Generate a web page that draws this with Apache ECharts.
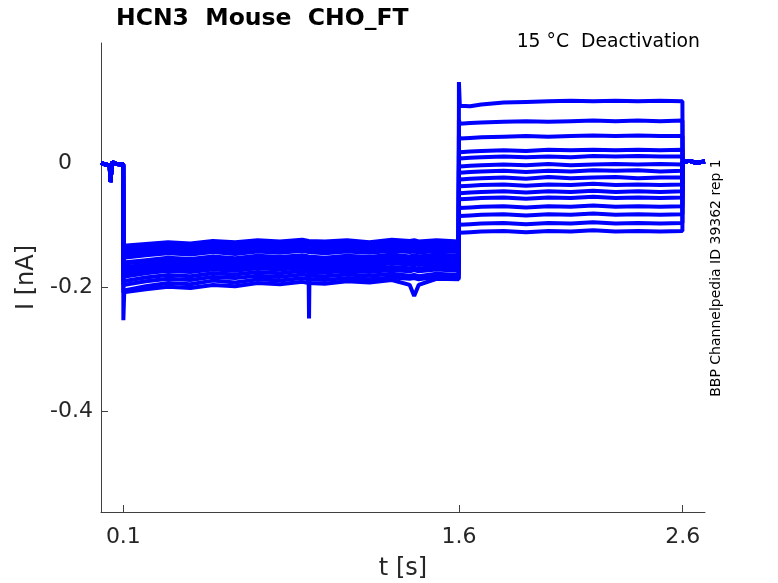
<!DOCTYPE html>
<html>
<head>
<meta charset="utf-8">
<script src="https://cdn.jsdelivr.net/npm/echarts@6/dist/echarts.min.js"></script>
<style>
  html, body { margin: 0; padding: 0; background: #fff; }
  #main { width: 778px; height: 583px; }
</style>
</head>
<body>
<div id="main"></div>
<script>
// holding period before the first step, shared by every sweep
var holdT = [0, 0.02, 0.039, 0.042, 0.046, 0.05, 0.07, 0.099];
var holdI = [0.001, -0.002, -0.003, -0.030, -0.028, 0.002, -0.001, -0.002];

// first step (activation), times in s
var step1T = [0.1, 0.104, 0.2, 0.3, 0.4, 0.5, 0.6, 0.7, 0.8, 0.9, 0.928, 0.93, 0.932,
              1.0, 1.1, 1.2, 1.3, 1.38, 1.4, 1.42, 1.5, 1.599];
// second step (deactivation tails)
var step2T = [1.6, 1.604, 1.65, 1.7, 1.8, 1.9, 2.0, 2.1, 2.2, 2.3, 2.4, 2.5, 2.599];
// back to holding
var endT = [2.6, 2.63, 2.66, 2.7];
var endI = [0.002, 0.004, 0.001, 0.003];

// current in nA for each sweep, first step
var s1_01 = [-0.160, -0.158, -0.156, -0.152, -0.154, -0.150, -0.153, -0.149, -0.151, -0.148, -0.150, -0.150, -0.150, -0.152, -0.149, -0.151, -0.147, -0.150, -0.148, -0.150, -0.147, -0.149];
var s1_02 = [-0.133, -0.132, -0.130, -0.127, -0.129, -0.125, -0.127, -0.124, -0.126, -0.123, -0.125, -0.125, -0.125, -0.126, -0.124, -0.127, -0.123, -0.125, -0.124, -0.126, -0.124, -0.126];
var s1_03 = [-0.178, -0.175, -0.172, -0.168, -0.170, -0.166, -0.168, -0.164, -0.166, -0.163, -0.165, -0.165, -0.165, -0.166, -0.163, -0.165, -0.161, -0.163, -0.162, -0.164, -0.161, -0.163];
var s1_04 = [-0.147, -0.145, -0.143, -0.140, -0.142, -0.138, -0.141, -0.137, -0.139, -0.136, -0.138, -0.138, -0.138, -0.140, -0.137, -0.139, -0.136, -0.138, -0.137, -0.139, -0.136, -0.138];
var s1_05 = [-0.190, -0.187, -0.184, -0.180, -0.182, -0.177, -0.179, -0.175, -0.177, -0.173, -0.175, -0.250, -0.175, -0.176, -0.173, -0.175, -0.172, -0.174, -0.172, -0.174, -0.171, -0.173];
var s1_06 = [-0.138, -0.137, -0.135, -0.131, -0.133, -0.129, -0.132, -0.128, -0.130, -0.127, -0.129, -0.129, -0.129, -0.131, -0.128, -0.130, -0.127, -0.129, -0.128, -0.130, -0.127, -0.129];
var s1_07 = [-0.168, -0.166, -0.163, -0.160, -0.162, -0.158, -0.160, -0.156, -0.158, -0.155, -0.157, -0.157, -0.157, -0.159, -0.156, -0.158, -0.155, -0.157, -0.156, -0.158, -0.155, -0.157];
var s1_08 = [-0.253, -0.205, -0.198, -0.193, -0.195, -0.189, -0.192, -0.187, -0.189, -0.185, -0.187, -0.187, -0.187, -0.188, -0.185, -0.187, -0.184, -0.186, -0.185, -0.187, -0.183, -0.185];
var s1_09 = [-0.152, -0.150, -0.148, -0.145, -0.147, -0.143, -0.146, -0.142, -0.144, -0.141, -0.143, -0.143, -0.143, -0.145, -0.142, -0.144, -0.141, -0.143, -0.142, -0.144, -0.141, -0.143];
var s1_10 = [-0.183, -0.180, -0.177, -0.173, -0.175, -0.171, -0.173, -0.169, -0.171, -0.168, -0.170, -0.170, -0.170, -0.171, -0.168, -0.170, -0.167, -0.169, -0.168, -0.170, -0.166, -0.168];
var s1_11 = [-0.208, -0.206, -0.203, -0.199, -0.201, -0.196, -0.198, -0.193, -0.195, -0.191, -0.193, -0.193, -0.193, -0.194, -0.190, -0.192, -0.188, -0.196, -0.214, -0.196, -0.186, -0.187];
var s1_12 = [-0.142, -0.141, -0.139, -0.135, -0.137, -0.133, -0.136, -0.132, -0.134, -0.131, -0.133, -0.133, -0.133, -0.135, -0.132, -0.134, -0.131, -0.133, -0.132, -0.134, -0.131, -0.133];
var s1_13 = [-0.173, -0.171, -0.168, -0.164, -0.166, -0.162, -0.164, -0.160, -0.162, -0.159, -0.161, -0.161, -0.161, -0.163, -0.160, -0.162, -0.159, -0.161, -0.160, -0.162, -0.159, -0.161];
var s1_14 = [-0.196, -0.193, -0.190, -0.186, -0.188, -0.183, -0.185, -0.181, -0.183, -0.179, -0.181, -0.181, -0.181, -0.182, -0.179, -0.181, -0.178, -0.181, -0.180, -0.182, -0.178, -0.180];
var s1_15 = [-0.162, -0.160, -0.158, -0.155, -0.157, -0.153, -0.155, -0.151, -0.153, -0.150, -0.152, -0.152, -0.152, -0.154, -0.151, -0.153, -0.150, -0.152, -0.151, -0.153, -0.150, -0.152];

// second step
var s2_01 = [0.131, 0.093, 0.092, 0.095, 0.098, 0.099, 0.100, 0.101, 0.100, 0.101, 0.100, 0.101, 0.100];
var s2_02 = [0.070, 0.064, 0.065, 0.066, 0.067, 0.068, 0.067, 0.068, 0.069, 0.068, 0.069, 0.068, 0.069];
var s2_03 = [0.045, 0.040, 0.041, 0.042, 0.043, 0.044, 0.043, 0.044, 0.045, 0.044, 0.045, 0.044, 0.044];
var s2_04 = [0.022, 0.018, 0.019, 0.020, 0.021, 0.020, 0.022, 0.021, 0.022, 0.021, 0.022, 0.021, 0.022];
var s2_05 = [0.012, 0.008, 0.009, 0.010, 0.011, 0.010, 0.011, 0.010, 0.012, 0.011, 0.012, 0.011, 0.011];
var s2_06 = [-0.001, -0.005, -0.004, -0.003, -0.002, -0.003, -0.001, -0.003, -0.002, -0.001, -0.002, -0.001, -0.002];
var s2_07 = [-0.011, -0.015, -0.014, -0.013, -0.012, -0.014, -0.012, -0.013, -0.011, -0.012, -0.011, -0.013, -0.012];
var s2_08 = [-0.022, -0.026, -0.025, -0.024, -0.023, -0.025, -0.022, -0.024, -0.023, -0.022, -0.024, -0.023, -0.023];
var s2_09 = [-0.033, -0.037, -0.036, -0.035, -0.034, -0.036, -0.034, -0.035, -0.033, -0.035, -0.034, -0.035, -0.034];
var s2_10 = [-0.044, -0.048, -0.047, -0.046, -0.045, -0.047, -0.045, -0.046, -0.044, -0.046, -0.045, -0.046, -0.045];
var s2_11 = [-0.054, -0.058, -0.057, -0.056, -0.055, -0.057, -0.055, -0.056, -0.054, -0.056, -0.055, -0.056, -0.055];
var s2_12 = [-0.068, -0.072, -0.071, -0.070, -0.069, -0.071, -0.069, -0.070, -0.068, -0.070, -0.069, -0.070, -0.069];
var s2_13 = [-0.081, -0.085, -0.084, -0.083, -0.082, -0.084, -0.082, -0.083, -0.081, -0.083, -0.082, -0.083, -0.082];
var s2_14 = [-0.095, -0.099, -0.098, -0.097, -0.096, -0.098, -0.096, -0.097, -0.095, -0.097, -0.096, -0.097, -0.096];
var s2_15 = [-0.108, -0.112, -0.111, -0.110, -0.109, -0.111, -0.109, -0.110, -0.108, -0.110, -0.109, -0.110, -0.109];

var step1 = [s1_01, s1_02, s1_03, s1_04, s1_05, s1_06, s1_07, s1_08, s1_09, s1_10, s1_11, s1_12, s1_13, s1_14, s1_15];
var step2 = [s2_01, s2_02, s2_03, s2_04, s2_05, s2_06, s2_07, s2_08, s2_09, s2_10, s2_11, s2_12, s2_13, s2_14, s2_15];

var xTicks = [0.1, 1.6, 2.6];
var yTicks = [-0.4, -0.2, 0];

function pairs(t, v) {
    var out = [];
    for (var i = 0; i < t.length; i++) out.push([t[i], v[i]]);
    return out;
}

var series = [];
for (var k = 0; k < step1.length; k++) {
    var d = pairs(holdT, holdI)
        .concat(pairs(step1T, step1[k]))
        .concat(pairs(step2T, step2[k]))
        .concat(pairs(endT, endI));
    series.push({
        type: 'line',
        data: d,
        symbol: 'none',
        lineStyle: { color: '#0000ff', width: 4 },
        silent: true
    });
}

var myChart = echarts.init(document.getElementById('main'));
var font = 'DejaVu Sans';
var axisCol = '#404040';
var option = {
    animation: false,
    textStyle: { fontFamily: font },
    title: [{
        text: 'HCN3  Mouse  CHO_FT',
        left: 111, top: 2,
        textStyle: { fontFamily: font, fontSize: 23.5, fontWeight: 'bold', color: '#000' }
    }, {
        text: '15 °C  Deactivation',
        right: 73, top: 28,
        textStyle: { fontFamily: font, fontSize: 18.8, fontWeight: 'normal', color: '#000' }
    }],
    grid: { left: 101, right: 73, top: 43, bottom: 71, outerBoundsMode: 'none', containLabel: false },
    xAxis: {
        type: 'value',
        min: 0, max: 2.7,
        name: 't [s]',
        nameLocation: 'middle',
        nameGap: 45,
        nameTextStyle: { fontSize: 24, color: '#262626', fontFamily: font },
        axisLine: { onZero: false, lineStyle: { color: axisCol, width: 1 } },
        axisTick: { inside: true, length: 7, customValues: xTicks, lineStyle: { color: axisCol } },
        axisLabel: { customValues: xTicks, fontSize: 22, color: '#262626', margin: 14, fontFamily: font },
        splitLine: { show: false }
    },
    yAxis: {
        type: 'value',
        min: -0.562, max: 0.194,
        name: 'I [nA]',
        nameLocation: 'middle',
        nameGap: 48,
        nameRotate: 90,
        nameTextStyle: { fontSize: 24, color: '#262626', fontFamily: font },
        axisLine: { show: true, onZero: false, lineStyle: { color: axisCol, width: 1 } },
        axisTick: { show: true, inside: true, length: 7, customValues: yTicks, lineStyle: { color: axisCol } },
        axisLabel: {
            customValues: yTicks, fontSize: 22, color: '#262626', margin: 8, fontFamily: font,
            formatter: function (v) { return v === 0 ? '0\u00a0\u00a0\u00a0' : String(v); }
        },
        splitLine: { show: false }
    },
    graphic: [{
        type: 'text',
        x: 716, y: 278,
        rotation: Math.PI / 2,
        style: {
            text: 'BBP Channelpedia ID 39362 rep 1',
            font: '14px "DejaVu Sans"',
            fill: '#000',
            align: 'center',
            verticalAlign: 'middle'
        }
    }],
    series: series
};

myChart.setOption(option);
window.onresize = function () {
    myChart.resize();
};
</script>
</body>
</html>
